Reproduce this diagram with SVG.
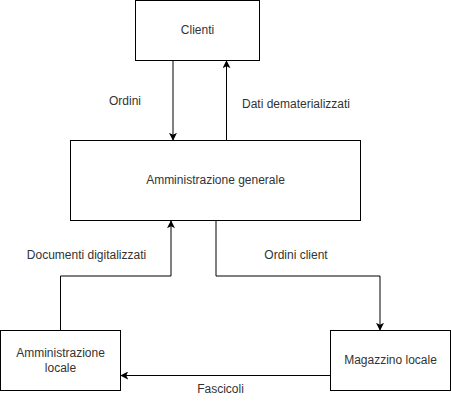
<svg xmlns="http://www.w3.org/2000/svg" width="451" height="406" viewBox="0 0 451 406">
<style>
.box{fill:#fff;stroke:#000;stroke-width:1}
.edge{fill:none;stroke:#000;stroke-width:1}
text{font-family:"Liberation Sans",Arial,sans-serif;font-size:12px;fill:#333;text-anchor:middle;dominant-baseline:central}
</style>
<defs>
<marker id="arr" viewBox="0 0 10 10" refX="9" refY="5" markerWidth="8" markerHeight="8" markerUnits="userSpaceOnUse" orient="auto">
<path d="M0,0 L10,5 L0,10 L2.5,5 Z" fill="#000"/>
</marker>
</defs>
<rect width="451" height="406" fill="#fff"/>
<g id="edges">
<path class="edge" d="M173,60.5 V140" marker-end="url(#arr)"/>
<path class="edge" d="M226.5,140.5 V61" marker-end="url(#arr)"/>
<path class="edge" d="M60.5,330.5 V276 H171 V221" marker-end="url(#arr)"/>
<path class="edge" d="M216,220.5 V276 H380 V330" marker-end="url(#arr)"/>
<path class="edge" d="M330.5,375.5 H121" marker-end="url(#arr)"/>
<text x="125" y="101">Ordini</text>
<text x="296" y="104">Dati dematerializzati</text>
<text x="86.5" y="255">Documenti digitalizzati</text>
<text x="296" y="255">Ordini client</text>
<text x="220.5" y="389">Fascicoli</text>
</g>
<g id="clienti">
<rect class="box" x="135.5" y="0.5" width="124" height="60"/>
<text x="197.5" y="30">Clienti</text>
</g>
<g id="amm-generale">
<rect class="box" x="70.5" y="140.5" width="290" height="80"/>
<text x="215.5" y="180">Amministrazione generale</text>
</g>
<g id="amm-locale">
<rect class="box" x="0.5" y="330.5" width="120" height="60"/>
<text x="60.5" y="353">Amministrazione</text>
<text x="60.5" y="368">locale</text>
</g>
<g id="magazzino">
<rect class="box" x="330.5" y="330.5" width="120" height="60"/>
<text x="390.5" y="360">Magazzino locale</text>
</g>
</svg>
